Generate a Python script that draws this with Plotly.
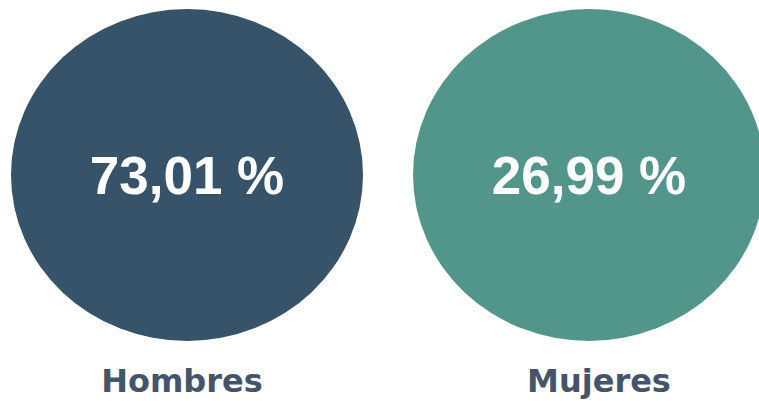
import plotly.graph_objects as go

categories = ["Hombres", "Mujeres"]
values = [73.01, 26.99]
colors = ["#365369", "#52958a"]

W, H = 759, 401
PX = 402.0                      # pixels per category step
x_pos = list(range(len(categories)))
x_range = [-187 / PX, (W - 187) / PX]
y_range = [401, 0]              # y axis in page pixels (reversed)

cx_half = 176 / PX
cy, cy_half = 175, 166

fig = go.Figure()

shapes = []
for i, c in enumerate(colors):
    shapes.append(dict(type="circle", xref="x", yref="y",
                       x0=x_pos[i] - cx_half, x1=x_pos[i] + cx_half,
                       y0=cy - cy_half, y1=cy + cy_half,
                       fillcolor=c, line=dict(width=0), layer="below"))

def fmt(v):
    return f"{v:.2f}".replace(".", ",") + " %"

fig.add_trace(go.Scatter(
    x=x_pos, y=[181] * len(values), mode="text",
    text=[fmt(v) for v in values],
    textfont=dict(family="Liberation Sans, Arial, sans-serif", size=53, color="white", weight="bold"),
    cliponaxis=False, hoverinfo="skip", showlegend=False))

label_dx = [-5 / PX, 10 / PX]
fig.add_trace(go.Scatter(
    x=[p + d for p, d in zip(x_pos, label_dx)], y=[384] * len(categories), mode="text",
    text=categories,
    textfont=dict(family="DejaVu Sans, Verdana, sans-serif", size=32, color="#44546a", weight="bold"),
    cliponaxis=False, hoverinfo="skip", showlegend=False))

fig.update_layout(
    width=W, height=H, margin=dict(l=0, r=0, t=0, b=0),
    paper_bgcolor="white", plot_bgcolor="white",
    shapes=shapes,
    xaxis=dict(range=x_range, visible=False, fixedrange=True),
    yaxis=dict(range=y_range, visible=False, fixedrange=True),
)

fig.write_html("out.html", config={"displayModeBar": False},
               post_script="document.body.style.margin='0';document.body.style.overflow='hidden';")
